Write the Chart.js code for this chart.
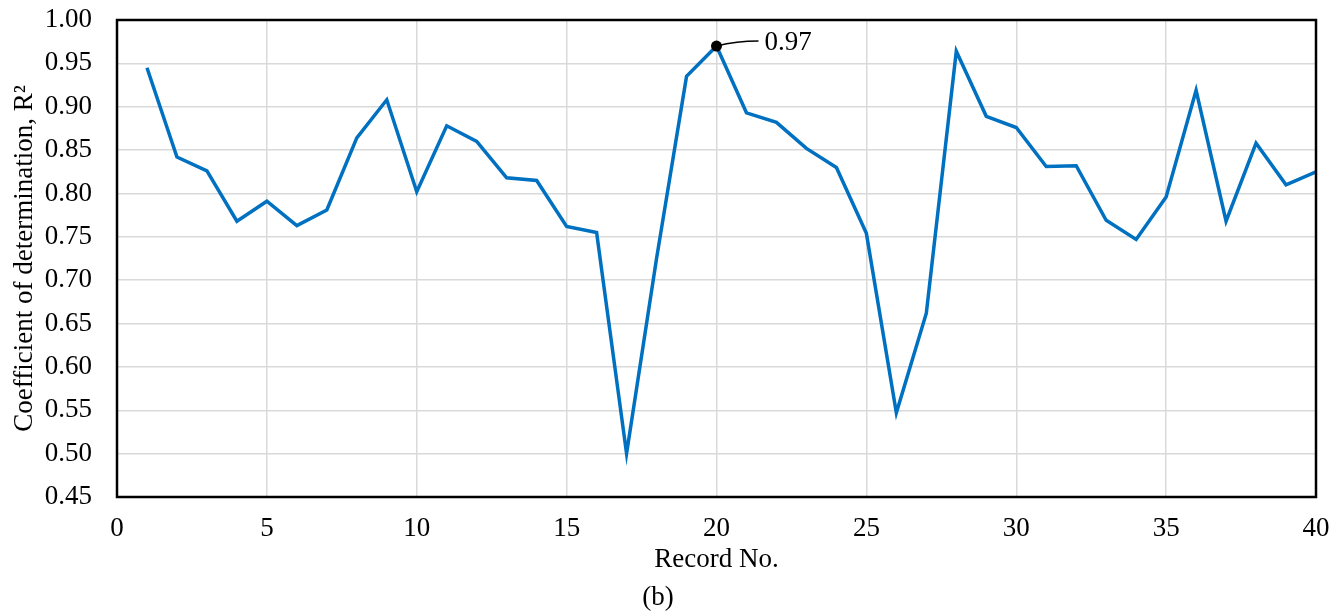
<!DOCTYPE html>
<html>
<head>
<meta charset="utf-8">
<script src="https://cdn.jsdelivr.net/npm/chart.js@4"></script>
<style>
  html, body { margin: 0; padding: 0; background: #fff; }
  #wrap { width: 1340px; height: 611px; }
</style>
</head>
<body>
<div id="wrap"><canvas id="chart"></canvas></div>
<script>
//Record numbers along the x axis
const records = [1,2,3,4,5,6,7,8,9,10,11,12,13,14,15,16,17,18,19,20,
  21,22,23,24,25,26,27,28,29,30,31,32,33,34,35,36,37,38,39,40];
//R2 value for each record
const r2Values = [0.945,0.842,0.826,0.768,0.791,0.763,0.781,0.864,0.908,0.802,
  0.878,0.860,0.818,0.815,0.762,0.755,0.500,0.725,0.935,0.970,
  0.893,0.882,0.852,0.830,0.754,0.547,0.662,0.964,0.889,0.876,
  0.831,0.832,0.769,0.747,0.796,0.919,0.768,0.858,0.810,0.825];
//record that gets the marker and value label
const annotatedRecord = 20;
//axis ranges
const xTicks = { min: 0, max: 40, step: 5 };
const yTicks = { min: 0.45, max: 1.0, step: 0.05 };

const serif = "'Liberation Serif', 'Times New Roman', serif";
const peakIdx = records.indexOf(annotatedRecord);

//frame round the plot area and the label of the marked point
const framePlugin = {
  id: 'frame',
  afterDatasetsDraw(chart) {
    const { ctx, chartArea: a } = chart;
    ctx.save();
    ctx.strokeStyle = '#000';
    ctx.lineWidth = 2.5;
    ctx.strokeRect(a.left, a.top, a.right - a.left, a.bottom - a.top);
    //leader line and text
    const pt = chart.getDatasetMeta(0).data[peakIdx];
    ctx.lineWidth = 1.5;
    ctx.beginPath();
    ctx.moveTo(pt.x, pt.y);
    ctx.quadraticCurveTo(pt.x + 20, pt.y - 5, pt.x + 42, pt.y - 5);
    ctx.stroke();
    ctx.fillStyle = '#000';
    ctx.font = '27px ' + serif;
    ctx.textAlign = 'left';
    ctx.textBaseline = 'middle';
    ctx.fillText(r2Values[peakIdx].toFixed(2), pt.x + 48, pt.y - 3);
    ctx.restore();
  }
};

let myChart = new Chart(document.getElementById('chart'), {
  type: 'line',
  plugins: [framePlugin],
  data: {
    datasets: [{
      data: records.map((r, i) => ({ x: r, y: r2Values[i] })),
      borderColor: '#0070C0',
      borderWidth: 3.5,
      tension: 0,
      pointRadius: records.map((r, i) => i === peakIdx ? 5.5 : 0),
      pointBackgroundColor: '#000',
      pointBorderColor: '#000',
      pointBorderWidth: 0
    }]
  },
  options: {
    responsive: true,
    maintainAspectRatio: false,
    animation: false,
    layout: { padding: { top: 20, right: 24, left: 0, bottom: 0 } },
    plugins: {
      legend: { display: false },
      tooltip: { enabled: false },
      title: {
        display: true,
        position: 'bottom',
        text: '(b)',
        color: '#000',
        font: { family: serif, size: 27, weight: 'normal', lineHeight: 1 },
        padding: { top: 8, bottom: 0 }
      }
    },
    scales: {
      x: {
        type: 'linear',
        min: xTicks.min,
        max: xTicks.max,
        afterFit: s => { s.height = 79; s.paddingLeft = 0; s.paddingRight = 0; },
        grid: { color: '#d9d9d9', lineWidth: 1.5, drawTicks: false },
        border: { display: false },
        ticks: {
          stepSize: xTicks.step,
          padding: 16,
          color: '#000',
          font: { family: serif, size: 27 }
        },
        title: {
          display: true,
          text: 'Record No.',
          color: '#000',
          font: { family: serif, size: 27 },
          padding: 0
        }
      },
      y: {
        min: yTicks.min,
        max: yTicks.max,
        afterFit: s => { s.width = 117; s.paddingTop = 0; s.paddingBottom = 0; },
        grid: { color: '#d9d9d9', lineWidth: 1.5, drawTicks: false },
        border: { display: false },
        ticks: {
          stepSize: yTicks.step,
          padding: 25,
          color: '#000',
          font: { family: serif, size: 27 },
          callback: v => v.toFixed(2)
        },
        title: {
          display: true,
          text: 'Coefficient of determination, R²',
          color: '#000',
          font: { family: serif, size: 27 },
          padding: { top: 9, bottom: 0 }
        }
      }
    }
  }
});
</script>
</body>
</html>
